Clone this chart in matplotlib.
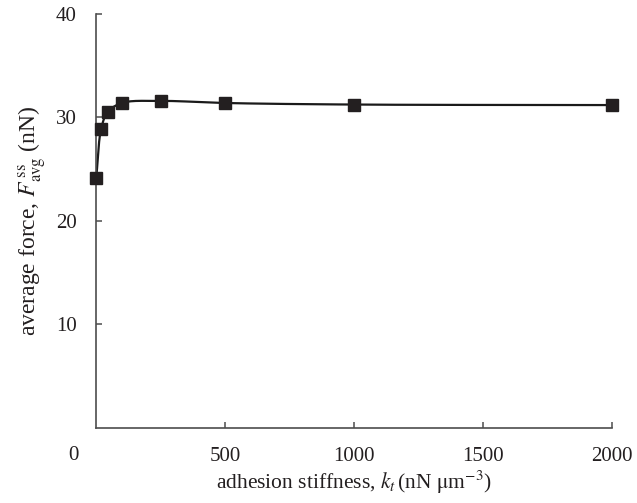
import numpy as np
import matplotlib
matplotlib.use("Agg")
import matplotlib.pyplot as plt

# data
stiffness = [1, 20, 45, 100, 250, 500, 1000, 2000]
avg_force = [24.2, 28.9, 30.5, 31.4, 31.6, 31.4, 31.25, 31.2]
x_ticks = [500, 1000, 1500, 2000]
x_tick_labels = ["500", "1000", "1500", "2000"]
y_ticks = [10, 20, 30, 40]
y_tick_labels = ["10", "20", "30", "40"]

plt.rcParams['font.family'] = ['Liberation Serif', 'DejaVu Serif']
plt.rcParams['mathtext.fontset'] = 'stix'

fig = plt.figure(figsize=(6.37, 5.03), dpi=100)
ax = fig.add_axes([0.1507, 0.1491, 0.8101, 0.8231])

xmin, xmax, ymin, ymax = 0, 2000, 0, 40


def smooth(xs, ys, n=40):
    # centripetal Catmull-Rom in normalised axis space (line styling only)
    sx = (xmax - xmin)
    sy = (ymax - ymin)
    P = np.column_stack([np.asarray(xs) / sx, np.asarray(ys) / sy * 0.8])
    P = np.vstack([2 * P[0] - P[1], P, 2 * P[-1] - P[-2]])
    out = []
    for i in range(1, len(P) - 2):
        p0, p1, p2, p3 = P[i - 1], P[i], P[i + 1], P[i + 2]
        a = 0.5
        t0 = 0
        t1 = t0 + np.linalg.norm(p1 - p0) ** a
        t2 = t1 + np.linalg.norm(p2 - p1) ** a
        t3 = t2 + np.linalg.norm(p3 - p2) ** a
        t = np.linspace(t1, t2, n)[:, None]
        A1 = (t1 - t) / (t1 - t0) * p0 + (t - t0) / (t1 - t0) * p1
        A2 = (t2 - t) / (t2 - t1) * p1 + (t - t1) / (t2 - t1) * p2
        A3 = (t3 - t) / (t3 - t2) * p2 + (t - t2) / (t3 - t2) * p3
        B1 = (t2 - t) / (t2 - t0) * A1 + (t - t0) / (t2 - t0) * A2
        B2 = (t3 - t) / (t3 - t1) * A2 + (t - t1) / (t3 - t1) * A3
        C = (t2 - t) / (t2 - t1) * B1 + (t - t1) / (t2 - t1) * B2
        out.append(C)
    C = np.vstack(out)
    return C[:, 0] * sx, C[:, 1] / 0.8 * sy


lx, ly = smooth(stiffness, avg_force)
ax.plot(lx, ly, color='#1a1a1a', lw=1.6, zorder=2)
ax.plot(stiffness, avg_force, ls='none', marker='s', ms=8.5,
        color='#231f20', zorder=3, clip_on=False)

ax.set_xlim(xmin, xmax)
ax.set_ylim(ymin, ymax)
for s in ['top', 'right']:
    ax.spines[s].set_visible(False)
for s in ['left', 'bottom']:
    ax.spines[s].set_color('#4d4d4d')
    ax.spines[s].set_linewidth(1.2)

ax.set_xticks(x_ticks)
ax.set_xticklabels(x_tick_labels)
ax.set_yticks(y_ticks)
ax.set_yticklabels(y_tick_labels)
ax.tick_params(direction='in', length=4.5, width=1.1, color='#4d4d4d',
               labelsize=15, labelcolor='#231f20')
ax.tick_params(axis='x', pad=14)
ax.tick_params(axis='y', pad=14)

ax.annotate("0", xy=(0, 0), xycoords='axes fraction', xytext=(-16.5, -19.5),
            textcoords='offset points', ha='center', va='center',
            fontsize=15, color='#231f20')

ax.set_xlabel(r"adhesion stiffness, $k_t\,$(nN $\mathrm{\mu}$m$^{-3}$)",
              fontsize=15.5, color='#231f20', labelpad=2)
ax.set_ylabel(r"average force, $F^{\,\mathrm{ss}}_{\mathrm{avg}}$ (nN)",
              fontsize=17, color='#231f20', labelpad=5)

fig.savefig("out.png", dpi=100)
